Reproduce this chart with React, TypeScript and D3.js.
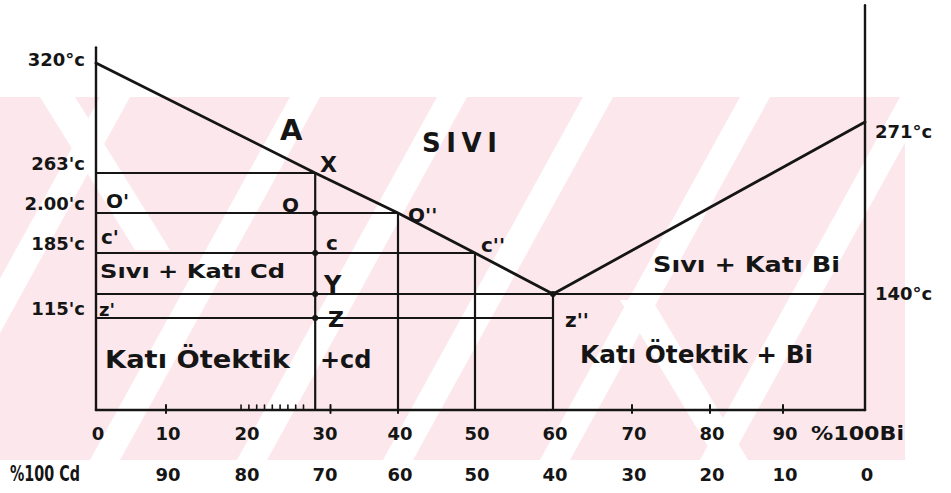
import React from 'react'
import * as d3 from 'd3'

const W = 951
const H = 493

// % Bi along the bottom axis, temperature in °C
const biTicks = [0, 10, 20, 30, 40, 50, 60, 70, 80, 90]
const cdTicks = [90, 80, 70, 60, 50, 40, 30, 20, 10, 0]
const cdLiquidusBi = [0, 29, 40, 50, 60]
const cdLiquidusT = [320, 263, 200, 185, 140]
const biLiquidusBi = [60, 100]
const biLiquidusT = [140, 271]
const isoT = [263, 200, 185, 140, 115]
const isoEndBi = [29, 40, 50, 100, 60]
const dropBi = [29, 40, 50, 60]
const dropT = [263, 200, 185, 140]
const dotBi = [29, 29, 29, 29, 60]
const dotT = [200, 185, 140, 115, 140]
const leftTemps = [320, 263, 200, 185, 115]
const leftTempLabels = ['320°c', "263'c", "2.00'c", "185'c", "115'c"]
const rightTemps = [271, 140]
const rightTempLabels = ['271°c', '140°c']
const minorTicks = [10, 31, 40, 70, 80, 90]
const hatchTicks = [19.5, 20.5, 21.5, 22.5, 23.5, 24.5, 25.5, 26.5, 27.5]
const axisTopLeft = 333
const axisTopRight = 368
const axisBottom = 0

const font = '"DejaVu Sans", sans-serif'
const ink = '#151515'

// faint striped watermark behind the drawing
function Watermark () {
  const top = 97
  const bottom = 460
  const w = 30
  const up = [-100, 90, 237, 383, 540, 700]
  const band = (b: number, run: number) =>
    `${b},${bottom} ${b + w},${bottom} ${b + w + run},${top} ${b + run},${top}`
  return (
    <g>
      <defs>
        <clipPath id='wm'>
          <rect x={0} y={top} width={905} height={bottom - top} />
        </clipPath>
      </defs>
      <g clipPath='url(#wm)'>
        <rect x={0} y={top} width={905} height={bottom - top} fill='#fce8ec' />
        {up.map(b => <polygon key={'u' + b} points={band(b, 200)} fill='#fff' />)}
        <polygon points='620,300 652,300 748,460 716,460' fill='#fff' />
        <polygon points='40,97 75,97 170,250 135,250' fill='#fff' />
      </g>
    </g>
  )
}

export default function App () {
  const x = d3.scaleLinear()
    .domain([0, 10, 20, 30, 40, 50, 60, 70, 80, 90, 100])
    .range([96, 166, 245, 323, 398, 475, 553, 632, 710, 783, 865])
  const y = d3.scaleLinear()
    .domain([320, 271, 263, 200, 185, 140, 115, 0])
    .range([63, 122, 173, 213, 253, 294, 318, 410])

  const line = d3.line<[number, number]>()
    .x(d => x(d[0]))
    .y(d => y(d[1]))

  const cdLiq = cdLiquidusBi.map((b, i) => [b, cdLiquidusT[i]] as [number, number])
  const biLiq = biLiquidusBi.map((b, i) => [b, biLiquidusT[i]] as [number, number])

  return (
    <svg width={W} height={H} style={{ display: 'block', position: 'absolute', left: 0, top: 0 }}>
      <rect width={W} height={H} fill='#fff' />
      <Watermark />

      <g stroke={ink} fill='none' strokeLinecap='round'>
        {/* axes */}
        <line x1={x(0)} x2={x(0)} y1={y(axisTopLeft)} y2={y(axisBottom)} strokeWidth={2.4} />
        <line x1={x(100)} x2={x(100)} y1={y(axisTopRight)} y2={y(axisBottom)} strokeWidth={2.4} />
        <line x1={x(0)} x2={x(100)} y1={y(axisBottom)} y2={y(axisBottom)} strokeWidth={2.6} />
        {minorTicks.map(t => (
          <line key={t} x1={x(t)} x2={x(t)} y1={y(axisBottom) - 5} y2={y(axisBottom) + 3} strokeWidth={2} />
        ))}
        {hatchTicks.map(t => (
          <line key={t} x1={x(t)} x2={x(t)} y1={y(axisBottom) - 5} y2={y(axisBottom)} strokeWidth={1.6} />
        ))}

        {/* isotherms and verticals */}
        {isoT.map((t, i) => (
          <line key={t} x1={x(0)} x2={x(isoEndBi[i])} y1={y(t)} y2={y(t)} strokeWidth={2.2} />
        ))}
        {dropBi.map((b, i) => (
          <line key={b} x1={x(b)} x2={x(b)} y1={y(dropT[i])} y2={y(axisBottom)} strokeWidth={2.2} />
        ))}

        {/* liquidus */}
        <path d={line(cdLiq) || ''} strokeWidth={2.8} />
        <path d={line(biLiq) || ''} strokeWidth={2.8} />
      </g>

      <g fill={ink}>
        {dotBi.map((b, i) => <circle key={i} cx={x(b)} cy={y(dotT[i])} r={3} />)}
      </g>

      <g fill={ink} fontFamily={font} fontWeight='bold'>
        {leftTemps.map((t, i) => (
          <text key={t} x={85} y={y(t) - (i === 0 ? -3 : 3)} fontSize={18} textAnchor='end'>{leftTempLabels[i]}</text>
        ))}
        {rightTemps.map((t, i) => (
          <text key={t} x={875} y={y(t) + (i === 0 ? 16 : 6)} fontSize={18}>{rightTempLabels[i]}</text>
        ))}

        {biTicks.map(t => (
          <text key={t} x={x(t) + 2} y={440} fontSize={18} textAnchor='middle'>{t}</text>
        ))}
        <text x={811} y={440} fontSize={20} textLength={93} lengthAdjust='spacingAndGlyphs'>%100Bi</text>
        {cdTicks.map(t => (
          <text key={t} x={x(100 - t) + 2} y={481} fontSize={18} textAnchor='middle'>{t}</text>
        ))}
        <text x={10} y={481} fontSize={21} textLength={70} lengthAdjust='spacingAndGlyphs'>%100 Cd</text>

        <text x={280} y={140} fontSize={29}>A</text>
        <text x={422} y={152} fontSize={26} textLength={75} lengthAdjust='spacing'>SIVI</text>
        <text x={320} y={172} fontSize={22}>X</text>
        <text x={106} y={208} fontSize={20}>O'</text>
        <text x={282} y={212} fontSize={20}>O</text>
        <text x={408} y={222} fontSize={20}>O''</text>
        <text x={101} y={244} fontSize={20}>c'</text>
        <text x={326} y={250} fontSize={20}>c</text>
        <text x={481} y={252} fontSize={20}>c''</text>
        <text x={100} y={278} fontSize={20} textLength={185} lengthAdjust='spacingAndGlyphs'>Sıvı + Katı Cd</text>
        <text x={324} y={293} fontSize={24}>Y</text>
        <text x={99} y={316} fontSize={18}>z'</text>
        <text x={328} y={327} fontSize={22}>Z</text>
        <text x={565} y={327} fontSize={20}>z''</text>
        <text x={105} y={368} fontSize={24} textLength={185} lengthAdjust='spacingAndGlyphs'>Katı Ötektik</text>
        <text x={320} y={368} fontSize={24}>+cd</text>
        <text x={580} y={363} fontSize={24} textLength={233} lengthAdjust='spacingAndGlyphs'>Katı Ötektik + Bi</text>
        <text x={653} y={272} fontSize={22} textLength={187} lengthAdjust='spacingAndGlyphs'>Sıvı + Katı Bi</text>
      </g>
    </svg>
  )
}
